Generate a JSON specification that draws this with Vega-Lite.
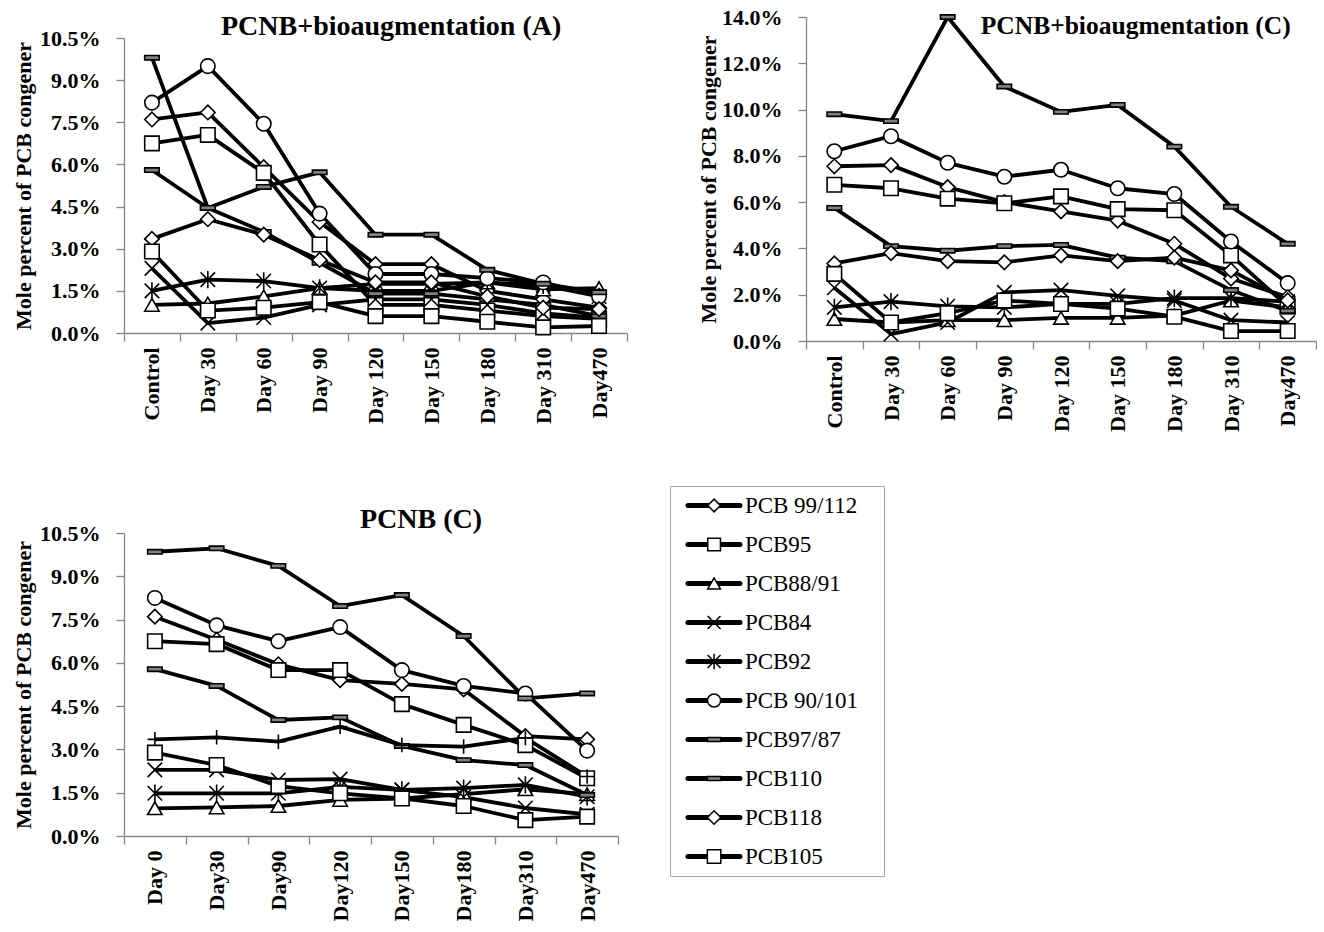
{
  "$schema": "https://vega.github.io/schema/vega-lite/v6.json",
  "padding": {"left": 12, "top": 6, "right": 0, "bottom": 0},
  "background": "white",
  "config": {
    "view": {"stroke": null},
    "font": "Liberation Serif",
    "axis": {
      "domainColor": "#868686", "domainWidth": 1.3,
      "tickColor": "#868686", "tickWidth": 1.3, "tickSize": 8,
      "labelFont": "Liberation Serif", "labelFontWeight": "bold", "labelFontSize": 22, "labelColor": "black",
      "titleFont": "Liberation Serif", "titleFontWeight": "bold", "titleFontSize": 22, "titleColor": "black",
      "grid": false, "labelOverlap": false
    },
    "title": {"font": "Liberation Serif", "fontWeight": "bold", "fontSize": 28, "color": "black"}
  },
  "datasets": {
    "bioA": [
      {"series": "PCB 99/112", "day": "Control", "value": 0.076}, {"series": "PCB 99/112", "day": "Day 30", "value": 0.0785}, {"series": "PCB 99/112", "day": "Day 60", "value": 0.059}, {"series": "PCB 99/112", "day": "Day 90", "value": 0.0395}, {"series": "PCB 99/112", "day": "Day 120", "value": 0.0245}, {"series": "PCB 99/112", "day": "Day 150", "value": 0.0245}, {"series": "PCB 99/112", "day": "Day 180", "value": 0.015}, {"series": "PCB 99/112", "day": "Day 310", "value": 0.012}, {"series": "PCB 99/112", "day": "Day470", "value": 0.009},
      {"series": "PCB95", "day": "Control", "value": 0.0675}, {"series": "PCB95", "day": "Day 30", "value": 0.0705}, {"series": "PCB95", "day": "Day 60", "value": 0.057}, {"series": "PCB95", "day": "Day 90", "value": 0.0315}, {"series": "PCB95", "day": "Day 120", "value": 0.010}, {"series": "PCB95", "day": "Day 150", "value": 0.010}, {"series": "PCB95", "day": "Day 180", "value": 0.008}, {"series": "PCB95", "day": "Day 310", "value": 0.006}, {"series": "PCB95", "day": "Day470", "value": 0.005},
      {"series": "PCB88/91", "day": "Control", "value": 0.010}, {"series": "PCB88/91", "day": "Day 30", "value": 0.0105}, {"series": "PCB88/91", "day": "Day 60", "value": 0.013}, {"series": "PCB88/91", "day": "Day 90", "value": 0.016}, {"series": "PCB88/91", "day": "Day 120", "value": 0.0175}, {"series": "PCB88/91", "day": "Day 150", "value": 0.0175}, {"series": "PCB88/91", "day": "Day 180", "value": 0.018}, {"series": "PCB88/91", "day": "Day 310", "value": 0.0155}, {"series": "PCB88/91", "day": "Day470", "value": 0.016},
      {"series": "PCB84", "day": "Control", "value": 0.023}, {"series": "PCB84", "day": "Day 30", "value": 0.0035}, {"series": "PCB84", "day": "Day 60", "value": 0.0055}, {"series": "PCB84", "day": "Day 90", "value": 0.010}, {"series": "PCB84", "day": "Day 120", "value": 0.012}, {"series": "PCB84", "day": "Day 150", "value": 0.012}, {"series": "PCB84", "day": "Day 180", "value": 0.010}, {"series": "PCB84", "day": "Day 310", "value": 0.007}, {"series": "PCB84", "day": "Day470", "value": 0.0055},
      {"series": "PCB92", "day": "Control", "value": 0.015}, {"series": "PCB92", "day": "Day 30", "value": 0.019}, {"series": "PCB92", "day": "Day 60", "value": 0.0185}, {"series": "PCB92", "day": "Day 90", "value": 0.016}, {"series": "PCB92", "day": "Day 120", "value": 0.015}, {"series": "PCB92", "day": "Day 150", "value": 0.015}, {"series": "PCB92", "day": "Day 180", "value": 0.018}, {"series": "PCB92", "day": "Day 310", "value": 0.017}, {"series": "PCB92", "day": "Day470", "value": 0.013},
      {"series": "PCB 90/101", "day": "Control", "value": 0.082}, {"series": "PCB 90/101", "day": "Day 30", "value": 0.095}, {"series": "PCB 90/101", "day": "Day 60", "value": 0.0745}, {"series": "PCB 90/101", "day": "Day 90", "value": 0.0425}, {"series": "PCB 90/101", "day": "Day 120", "value": 0.021}, {"series": "PCB 90/101", "day": "Day 150", "value": 0.021}, {"series": "PCB 90/101", "day": "Day 180", "value": 0.0195}, {"series": "PCB 90/101", "day": "Day 310", "value": 0.018}, {"series": "PCB 90/101", "day": "Day470", "value": 0.013},
      {"series": "PCB97/87", "day": "Control", "value": 0.058}, {"series": "PCB97/87", "day": "Day 30", "value": 0.0445}, {"series": "PCB97/87", "day": "Day 60", "value": 0.036}, {"series": "PCB97/87", "day": "Day 90", "value": 0.025}, {"series": "PCB97/87", "day": "Day 120", "value": 0.014}, {"series": "PCB97/87", "day": "Day 150", "value": 0.014}, {"series": "PCB97/87", "day": "Day 180", "value": 0.012}, {"series": "PCB97/87", "day": "Day 310", "value": 0.010}, {"series": "PCB97/87", "day": "Day470", "value": 0.006},
      {"series": "PCB110", "day": "Control", "value": 0.098}, {"series": "PCB110", "day": "Day 30", "value": 0.0445}, {"series": "PCB110", "day": "Day 60", "value": 0.052}, {"series": "PCB110", "day": "Day 90", "value": 0.0572}, {"series": "PCB110", "day": "Day 120", "value": 0.035}, {"series": "PCB110", "day": "Day 150", "value": 0.035}, {"series": "PCB110", "day": "Day 180", "value": 0.0225}, {"series": "PCB110", "day": "Day 310", "value": 0.0175}, {"series": "PCB110", "day": "Day470", "value": 0.0145},
      {"series": "PCB118", "day": "Control", "value": 0.0335}, {"series": "PCB118", "day": "Day 30", "value": 0.0405}, {"series": "PCB118", "day": "Day 60", "value": 0.035}, {"series": "PCB118", "day": "Day 90", "value": 0.026}, {"series": "PCB118", "day": "Day 120", "value": 0.018}, {"series": "PCB118", "day": "Day 150", "value": 0.018}, {"series": "PCB118", "day": "Day 180", "value": 0.013}, {"series": "PCB118", "day": "Day 310", "value": 0.009}, {"series": "PCB118", "day": "Day470", "value": 0.0085},
      {"series": "PCB105", "day": "Control", "value": 0.029}, {"series": "PCB105", "day": "Day 30", "value": 0.008}, {"series": "PCB105", "day": "Day 60", "value": 0.009}, {"series": "PCB105", "day": "Day 90", "value": 0.011}, {"series": "PCB105", "day": "Day 120", "value": 0.006}, {"series": "PCB105", "day": "Day 150", "value": 0.006}, {"series": "PCB105", "day": "Day 180", "value": 0.004}, {"series": "PCB105", "day": "Day 310", "value": 0.002}, {"series": "PCB105", "day": "Day470", "value": 0.0025}
    ],
    "bioC": [
      {"series": "PCB 99/112", "day": "Control", "value": 0.0755}, {"series": "PCB 99/112", "day": "Day 30", "value": 0.076}, {"series": "PCB 99/112", "day": "Day 60", "value": 0.0665}, {"series": "PCB 99/112", "day": "Day 90", "value": 0.060}, {"series": "PCB 99/112", "day": "Day 120", "value": 0.056}, {"series": "PCB 99/112", "day": "Day 150", "value": 0.052}, {"series": "PCB 99/112", "day": "Day 180", "value": 0.042}, {"series": "PCB 99/112", "day": "Day 310", "value": 0.027}, {"series": "PCB 99/112", "day": "Day470", "value": 0.019},
      {"series": "PCB95", "day": "Control", "value": 0.0675}, {"series": "PCB95", "day": "Day 30", "value": 0.066}, {"series": "PCB95", "day": "Day 60", "value": 0.0615}, {"series": "PCB95", "day": "Day 90", "value": 0.0595}, {"series": "PCB95", "day": "Day 120", "value": 0.0625}, {"series": "PCB95", "day": "Day 150", "value": 0.057}, {"series": "PCB95", "day": "Day 180", "value": 0.0565}, {"series": "PCB95", "day": "Day 310", "value": 0.037}, {"series": "PCB95", "day": "Day470", "value": 0.015},
      {"series": "PCB88/91", "day": "Control", "value": 0.0095}, {"series": "PCB88/91", "day": "Day 30", "value": 0.008}, {"series": "PCB88/91", "day": "Day 60", "value": 0.009}, {"series": "PCB88/91", "day": "Day 90", "value": 0.009}, {"series": "PCB88/91", "day": "Day 120", "value": 0.010}, {"series": "PCB88/91", "day": "Day 150", "value": 0.010}, {"series": "PCB88/91", "day": "Day 180", "value": 0.011}, {"series": "PCB88/91", "day": "Day 310", "value": 0.0175}, {"series": "PCB88/91", "day": "Day470", "value": 0.0145},
      {"series": "PCB84", "day": "Control", "value": 0.023}, {"series": "PCB84", "day": "Day 30", "value": 0.003}, {"series": "PCB84", "day": "Day 60", "value": 0.008}, {"series": "PCB84", "day": "Day 90", "value": 0.021}, {"series": "PCB84", "day": "Day 120", "value": 0.022}, {"series": "PCB84", "day": "Day 150", "value": 0.0195}, {"series": "PCB84", "day": "Day 180", "value": 0.0175}, {"series": "PCB84", "day": "Day 310", "value": 0.009}, {"series": "PCB84", "day": "Day470", "value": 0.008},
      {"series": "PCB92", "day": "Control", "value": 0.0145}, {"series": "PCB92", "day": "Day 30", "value": 0.017}, {"series": "PCB92", "day": "Day 60", "value": 0.015}, {"series": "PCB92", "day": "Day 90", "value": 0.0145}, {"series": "PCB92", "day": "Day 120", "value": 0.016}, {"series": "PCB92", "day": "Day 150", "value": 0.016}, {"series": "PCB92", "day": "Day 180", "value": 0.0185}, {"series": "PCB92", "day": "Day 310", "value": 0.0185}, {"series": "PCB92", "day": "Day470", "value": 0.017},
      {"series": "PCB 90/101", "day": "Control", "value": 0.082}, {"series": "PCB 90/101", "day": "Day 30", "value": 0.0885}, {"series": "PCB 90/101", "day": "Day 60", "value": 0.077}, {"series": "PCB 90/101", "day": "Day 90", "value": 0.071}, {"series": "PCB 90/101", "day": "Day 120", "value": 0.074}, {"series": "PCB 90/101", "day": "Day 150", "value": 0.066}, {"series": "PCB 90/101", "day": "Day 180", "value": 0.0635}, {"series": "PCB 90/101", "day": "Day 310", "value": 0.043}, {"series": "PCB 90/101", "day": "Day470", "value": 0.025},
      {"series": "PCB97/87", "day": "Control", "value": 0.0575}, {"series": "PCB97/87", "day": "Day 30", "value": 0.041}, {"series": "PCB97/87", "day": "Day 60", "value": 0.039}, {"series": "PCB97/87", "day": "Day 90", "value": 0.041}, {"series": "PCB97/87", "day": "Day 120", "value": 0.0415}, {"series": "PCB97/87", "day": "Day 150", "value": 0.036}, {"series": "PCB97/87", "day": "Day 180", "value": 0.0345}, {"series": "PCB97/87", "day": "Day 310", "value": 0.022}, {"series": "PCB97/87", "day": "Day470", "value": 0.013},
      {"series": "PCB110", "day": "Control", "value": 0.098}, {"series": "PCB110", "day": "Day 30", "value": 0.095}, {"series": "PCB110", "day": "Day 60", "value": 0.140}, {"series": "PCB110", "day": "Day 90", "value": 0.110}, {"series": "PCB110", "day": "Day 120", "value": 0.099}, {"series": "PCB110", "day": "Day 150", "value": 0.102}, {"series": "PCB110", "day": "Day 180", "value": 0.084}, {"series": "PCB110", "day": "Day 310", "value": 0.058}, {"series": "PCB110", "day": "Day470", "value": 0.042},
      {"series": "PCB118", "day": "Control", "value": 0.0335}, {"series": "PCB118", "day": "Day 30", "value": 0.038}, {"series": "PCB118", "day": "Day 60", "value": 0.0345}, {"series": "PCB118", "day": "Day 90", "value": 0.034}, {"series": "PCB118", "day": "Day 120", "value": 0.037}, {"series": "PCB118", "day": "Day 150", "value": 0.0345}, {"series": "PCB118", "day": "Day 180", "value": 0.036}, {"series": "PCB118", "day": "Day 310", "value": 0.0305}, {"series": "PCB118", "day": "Day470", "value": 0.0175},
      {"series": "PCB105", "day": "Control", "value": 0.029}, {"series": "PCB105", "day": "Day 30", "value": 0.008}, {"series": "PCB105", "day": "Day 60", "value": 0.012}, {"series": "PCB105", "day": "Day 90", "value": 0.0175}, {"series": "PCB105", "day": "Day 120", "value": 0.016}, {"series": "PCB105", "day": "Day 150", "value": 0.014}, {"series": "PCB105", "day": "Day 180", "value": 0.0105}, {"series": "PCB105", "day": "Day 310", "value": 0.0043}, {"series": "PCB105", "day": "Day470", "value": 0.0043}
    ],
    "pcnb": [
      {"series": "PCB 99/112", "day": "Day 0", "value": 0.076}, {"series": "PCB 99/112", "day": "Day30", "value": 0.068}, {"series": "PCB 99/112", "day": "Day90", "value": 0.0595}, {"series": "PCB 99/112", "day": "Day120", "value": 0.054}, {"series": "PCB 99/112", "day": "Day150", "value": 0.0527}, {"series": "PCB 99/112", "day": "Day180", "value": 0.0508}, {"series": "PCB 99/112", "day": "Day310", "value": 0.0346}, {"series": "PCB 99/112", "day": "Day470", "value": 0.0335},
      {"series": "PCB95", "day": "Day 0", "value": 0.0675}, {"series": "PCB95", "day": "Day30", "value": 0.0665}, {"series": "PCB95", "day": "Day90", "value": 0.0575}, {"series": "PCB95", "day": "Day120", "value": 0.0575}, {"series": "PCB95", "day": "Day150", "value": 0.0457}, {"series": "PCB95", "day": "Day180", "value": 0.0385}, {"series": "PCB95", "day": "Day310", "value": 0.0315}, {"series": "PCB95", "day": "Day470", "value": 0.020},
      {"series": "PCB88/91", "day": "Day 0", "value": 0.0096}, {"series": "PCB88/91", "day": "Day30", "value": 0.0099}, {"series": "PCB88/91", "day": "Day90", "value": 0.0104}, {"series": "PCB88/91", "day": "Day120", "value": 0.0125}, {"series": "PCB88/91", "day": "Day150", "value": 0.013}, {"series": "PCB88/91", "day": "Day180", "value": 0.0145}, {"series": "PCB88/91", "day": "Day310", "value": 0.0162}, {"series": "PCB88/91", "day": "Day470", "value": 0.0145},
      {"series": "PCB84", "day": "Day 0", "value": 0.0229}, {"series": "PCB84", "day": "Day30", "value": 0.0229}, {"series": "PCB84", "day": "Day90", "value": 0.0194}, {"series": "PCB84", "day": "Day120", "value": 0.0197}, {"series": "PCB84", "day": "Day150", "value": 0.016}, {"series": "PCB84", "day": "Day180", "value": 0.0135}, {"series": "PCB84", "day": "Day310", "value": 0.0097}, {"series": "PCB84", "day": "Day470", "value": 0.0075},
      {"series": "PCB92", "day": "Day 0", "value": 0.0148}, {"series": "PCB92", "day": "Day30", "value": 0.0148}, {"series": "PCB92", "day": "Day90", "value": 0.0148}, {"series": "PCB92", "day": "Day120", "value": 0.017}, {"series": "PCB92", "day": "Day150", "value": 0.016}, {"series": "PCB92", "day": "Day180", "value": 0.0166}, {"series": "PCB92", "day": "Day310", "value": 0.0177}, {"series": "PCB92", "day": "Day470", "value": 0.0136},
      {"series": "PCB 90/101", "day": "Day 0", "value": 0.0825}, {"series": "PCB 90/101", "day": "Day30", "value": 0.073}, {"series": "PCB 90/101", "day": "Day90", "value": 0.0675}, {"series": "PCB 90/101", "day": "Day120", "value": 0.0724}, {"series": "PCB 90/101", "day": "Day150", "value": 0.0575}, {"series": "PCB 90/101", "day": "Day180", "value": 0.052}, {"series": "PCB 90/101", "day": "Day310", "value": 0.0494}, {"series": "PCB 90/101", "day": "Day470", "value": 0.0296},
      {"series": "PCB97/87", "day": "Day 0", "value": 0.0578}, {"series": "PCB97/87", "day": "Day30", "value": 0.052}, {"series": "PCB97/87", "day": "Day90", "value": 0.0402}, {"series": "PCB97/87", "day": "Day120", "value": 0.0411}, {"series": "PCB97/87", "day": "Day150", "value": 0.0312}, {"series": "PCB97/87", "day": "Day180", "value": 0.0263}, {"series": "PCB97/87", "day": "Day310", "value": 0.0246}, {"series": "PCB97/87", "day": "Day470", "value": 0.0142},
      {"series": "PCB110", "day": "Day 0", "value": 0.0985}, {"series": "PCB110", "day": "Day30", "value": 0.0997}, {"series": "PCB110", "day": "Day90", "value": 0.0936}, {"series": "PCB110", "day": "Day120", "value": 0.0797}, {"series": "PCB110", "day": "Day150", "value": 0.0835}, {"series": "PCB110", "day": "Day180", "value": 0.0693}, {"series": "PCB110", "day": "Day310", "value": 0.0477}, {"series": "PCB110", "day": "Day470", "value": 0.0494},
      {"series": "PCB118", "day": "Day 0", "value": 0.0335}, {"series": "PCB118", "day": "Day30", "value": 0.0342}, {"series": "PCB118", "day": "Day90", "value": 0.0327}, {"series": "PCB118", "day": "Day120", "value": 0.0379}, {"series": "PCB118", "day": "Day150", "value": 0.0315}, {"series": "PCB118", "day": "Day180", "value": 0.031}, {"series": "PCB118", "day": "Day310", "value": 0.034}, {"series": "PCB118", "day": "Day470", "value": 0.0206},
      {"series": "PCB105", "day": "Day 0", "value": 0.0289}, {"series": "PCB105", "day": "Day30", "value": 0.0246}, {"series": "PCB105", "day": "Day90", "value": 0.0173}, {"series": "PCB105", "day": "Day120", "value": 0.0148}, {"series": "PCB105", "day": "Day150", "value": 0.013}, {"series": "PCB105", "day": "Day180", "value": 0.0104}, {"series": "PCB105", "day": "Day310", "value": 0.0055}, {"series": "PCB105", "day": "Day470", "value": 0.0067}
    ],
    "legend": [
      {"series": "PCB 99/112"}, {"series": "PCB95"}, {"series": "PCB88/91"}, {"series": "PCB84"}, {"series": "PCB92"},
      {"series": "PCB 90/101"}, {"series": "PCB97/87"}, {"series": "PCB110"}, {"series": "PCB118"}, {"series": "PCB105"}
    ]
  },
  "resolve": {"scale": {"x": "independent", "y": "independent", "shape": "independent", "fill": "independent", "size": "independent"}},
  "columns": 2,
  "align": "none",
  "spacing": {"row": 53, "column": 41},
  "concat": [
    {
      "width": 503, "height": 295,
      "data": {"name": "bioA"},
      "title": {"text": "PCNB+bioaugmentation (A)\u00a0\u00a0\u00a0\u00a0\u00a0\u00a0\u00a0\u00a0\u00a0\u00a0\u00a0\u00a0\u00a0", "baseline": "alphabetic", "offset": -36, "anchor": "start", "frame": "group", "dx": 97},
      "encoding": {
        "x": {"field": "day", "type": "nominal", "bandPosition": 0.5,
          "scale": {"type": "band", "domain": ["Control", "Day 30", "Day 60", "Day 90", "Day 120", "Day 150", "Day 180", "Day 310", "Day470"], "paddingInner": 0, "paddingOuter": 0},
          "axis": {"title": null, "labelAngle": 270, "tickBand": "extent", "labelPadding": 6}},
        "y": {"field": "value", "type": "quantitative",
          "scale": {"domain": [0, 0.105], "nice": false},
          "axis": {"title": "Mole percent of PCB congener", "values": [0, 0.015, 0.03, 0.045, 0.06, 0.075, 0.09, 0.105], "format": ".1%", "labelPadding": 16, "titlePadding": 4}}
      },
      "layer": [
        {"mark": {"type": "line", "color": "black", "strokeWidth": 3.8, "strokeJoin": "round"}, "encoding": {"detail": {"field": "series"}}},
        {"mark": {"type": "point", "filled": true, "stroke": "black", "strokeWidth": 1.6, "opacity": 1},
          "encoding": {
            "shape": {"field": "series", "legend": null, "scale": {"domain": ["PCB 99/112", "PCB95", "PCB88/91", "PCB84", "PCB92", "PCB 90/101", "PCB97/87", "PCB110", "PCB118", "PCB105"], "range": ["diamond", "square", "triangle-up", "M-1,-1L1,1M-1,1L1,-1", "M-1,-1L1,1M-1,1L1,-1M0,-1.2L0,1.2", "circle", "M-1,-0.3L1,-0.3L1,0.3L-1,0.3Z", "M-1,-0.3L1,-0.3L1,0.3L-1,0.3Z", "diamond", "square"]}},
            "fill": {"field": "series", "legend": null, "scale": {"domain": ["PCB 99/112", "PCB95", "PCB88/91", "PCB84", "PCB92", "PCB 90/101", "PCB97/87", "PCB110", "PCB118", "PCB105"], "range": ["white", "white", "white", "white", "white", "white", "#808080", "#808080", "white", "white"]}},
            "size": {"field": "series", "legend": null, "scale": {"domain": ["PCB 99/112", "PCB95", "PCB88/91", "PCB84", "PCB92", "PCB 90/101", "PCB97/87", "PCB110", "PCB118", "PCB105"], "range": [210, 210, 190, 170, 170, 220, 110, 110, 210, 210]}}
          }}
      ]
    },
    {
      "width": 510, "height": 303,
      "data": {"name": "bioC"},
      "encoding": {
        "x": {"field": "day", "type": "nominal", "bandPosition": 0.5,
          "scale": {"type": "band", "domain": ["Control", "Day 30", "Day 60", "Day 90", "Day 120", "Day 150", "Day 180", "Day 310", "Day470"], "paddingInner": 0, "paddingOuter": 0},
          "axis": {"title": null, "labelAngle": 270, "tickBand": "extent", "labelPadding": 6}},
        "y": {"field": "value", "type": "quantitative",
          "scale": {"domain": [0, 0.14], "nice": false, "range": [303, -21]},
          "axis": {"title": ["", "Mole percent of PCB congener"], "titleLineHeight": 28, "values": [0, 0.02, 0.04, 0.06, 0.08, 0.10, 0.12, 0.14], "format": ".1%", "labelPadding": 16, "titlePadding": 1}}
      },
      "layer": [
        {"mark": {"type": "line", "color": "black", "strokeWidth": 3.8, "strokeJoin": "round"}, "encoding": {"detail": {"field": "series"}}},
        {"mark": {"type": "point", "filled": true, "stroke": "black", "strokeWidth": 1.6, "opacity": 1},
          "encoding": {
            "shape": {"field": "series", "legend": null, "scale": {"domain": ["PCB 99/112", "PCB95", "PCB88/91", "PCB84", "PCB92", "PCB 90/101", "PCB97/87", "PCB110", "PCB118", "PCB105"], "range": ["diamond", "square", "triangle-up", "M-1,-1L1,1M-1,1L1,-1", "M-1,-1L1,1M-1,1L1,-1M0,-1.2L0,1.2", "circle", "M-1,-0.3L1,-0.3L1,0.3L-1,0.3Z", "M-1,-0.3L1,-0.3L1,0.3L-1,0.3Z", "diamond", "square"]}},
            "fill": {"field": "series", "legend": null, "scale": {"domain": ["PCB 99/112", "PCB95", "PCB88/91", "PCB84", "PCB92", "PCB 90/101", "PCB97/87", "PCB110", "PCB118", "PCB105"], "range": ["white", "white", "white", "white", "white", "white", "#808080", "#808080", "white", "white"]}},
            "size": {"field": "series", "legend": null, "scale": {"domain": ["PCB 99/112", "PCB95", "PCB88/91", "PCB84", "PCB92", "PCB 90/101", "PCB97/87", "PCB110", "PCB118", "PCB105"], "range": [210, 210, 190, 170, 170, 220, 110, 110, 210, 210]}}
          }},
        {"transform": [{"filter": "datum.series === 'PCB110' && datum.day === 'Day470'"}],
          "mark": {"type": "text", "align": "right", "baseline": "alphabetic", "font": "Liberation Serif", "fontWeight": "bold", "fontSize": 25.5, "color": "black", "dx": 3},
          "encoding": {"y": {"datum": 0.1327}, "text": {"value": "PCNB+bioaugmentation (C)"}}}
      ]
    },
    {
      "width": 494, "height": 303,
      "data": {"name": "pcnb"},
      "title": {"text": ["", "PCNB (C)"], "lineHeight": 21, "baseline": "alphabetic", "offset": -34, "dx": 50},
      "encoding": {
        "x": {"field": "day", "type": "nominal", "bandPosition": 0.5,
          "scale": {"type": "band", "domain": ["Day 0", "Day30", "Day90", "Day120", "Day150", "Day180", "Day310", "Day470"], "paddingInner": 0, "paddingOuter": 0},
          "axis": {"title": null, "labelAngle": 270, "tickBand": "extent", "labelPadding": 6}},
        "y": {"field": "value", "type": "quantitative",
          "scale": {"domain": [0, 0.105], "nice": false},
          "axis": {"title": "Mole percent of PCB congener", "values": [0, 0.015, 0.03, 0.045, 0.06, 0.075, 0.09, 0.105], "format": ".1%", "labelPadding": 16, "titlePadding": 4}}
      },
      "layer": [
        {"mark": {"type": "line", "color": "black", "strokeWidth": 3.8, "strokeJoin": "round"}, "encoding": {"detail": {"field": "series"}}},
        {"mark": {"type": "point", "filled": true, "stroke": "black", "strokeWidth": 1.6, "opacity": 1},
          "encoding": {
            "shape": {"field": "series", "legend": null, "scale": {"domain": ["PCB 99/112", "PCB95", "PCB88/91", "PCB84", "PCB92", "PCB 90/101", "PCB97/87", "PCB110", "PCB118", "PCB105"], "range": ["diamond", "square", "triangle-up", "M-1,-1L1,1M-1,1L1,-1", "M-1,-1L1,1M-1,1L1,-1M0,-1.2L0,1.2", "circle", "M-1,-0.3L1,-0.3L1,0.3L-1,0.3Z", "M-1,-0.3L1,-0.3L1,0.3L-1,0.3Z", "M-1,0L1,0M0,-1L0,1", "square"]}},
            "fill": {"field": "series", "legend": null, "scale": {"domain": ["PCB 99/112", "PCB95", "PCB88/91", "PCB84", "PCB92", "PCB 90/101", "PCB97/87", "PCB110", "PCB118", "PCB105"], "range": ["white", "white", "white", "white", "white", "white", "#808080", "#808080", "white", "white"]}},
            "size": {"field": "series", "legend": null, "scale": {"domain": ["PCB 99/112", "PCB95", "PCB88/91", "PCB84", "PCB92", "PCB 90/101", "PCB97/87", "PCB110", "PCB118", "PCB105"], "range": [210, 210, 190, 170, 170, 220, 110, 110, 200, 210]}}
          }}
      ]
    },
    {
      "width": 214, "height": 390,
      "view": {"stroke": "#a6a6a6", "strokeWidth": 1},
      "data": {"name": "legend"},
      "encoding": {
        "y": {"field": "series", "type": "nominal", "bandPosition": 0.5,
          "scale": {"type": "band", "domain": ["PCB 99/112", "PCB95", "PCB88/91", "PCB84", "PCB92", "PCB 90/101", "PCB97/87", "PCB110", "PCB118", "PCB105"], "paddingInner": 0, "paddingOuter": 0},
          "axis": null}
      },
      "layer": [
        {"mark": {"type": "rule", "color": "black", "strokeWidth": 5, "strokeCap": "round"},
          "encoding": {"x": {"datum": 0.84, "type": "quantitative", "scale": {"domain": [0, 10], "nice": false}, "axis": null}, "x2": {"datum": 3.27}}},
        {"mark": {"type": "point", "filled": true, "stroke": "black", "strokeWidth": 1.5, "opacity": 1},
          "encoding": {
            "x": {"datum": 2.06, "type": "quantitative"},
            "shape": {"field": "series", "legend": null, "scale": {"domain": ["PCB 99/112", "PCB95", "PCB88/91", "PCB84", "PCB92", "PCB 90/101", "PCB97/87", "PCB110", "PCB118", "PCB105"], "range": ["diamond", "square", "triangle-up", "M-1,-1L1,1M-1,1L1,-1", "M-1,-1L1,1M-1,1L1,-1M0,-1.2L0,1.2", "circle", "M-1,-0.3L1,-0.3L1,0.3L-1,0.3Z", "M-1,-0.3L1,-0.3L1,0.3L-1,0.3Z", "diamond", "square"]}},
            "fill": {"field": "series", "legend": null, "scale": {"domain": ["PCB 99/112", "PCB95", "PCB88/91", "PCB84", "PCB92", "PCB 90/101", "PCB97/87", "PCB110", "PCB118", "PCB105"], "range": ["white", "white", "white", "white", "white", "white", "#808080", "#808080", "white", "white"]}},
            "size": {"field": "series", "legend": null, "scale": {"domain": ["PCB 99/112", "PCB95", "PCB88/91", "PCB84", "PCB92", "PCB 90/101", "PCB97/87", "PCB110", "PCB118", "PCB105"], "range": [160, 180, 140, 100, 100, 190, 50, 50, 160, 180]}}
          }},
        {"mark": {"type": "text", "align": "left", "baseline": "middle", "font": "Liberation Serif", "fontSize": 23, "color": "black"},
          "encoding": {"x": {"datum": 3.5, "type": "quantitative"}, "text": {"field": "series"}}}
      ]
    }
  ]
}
